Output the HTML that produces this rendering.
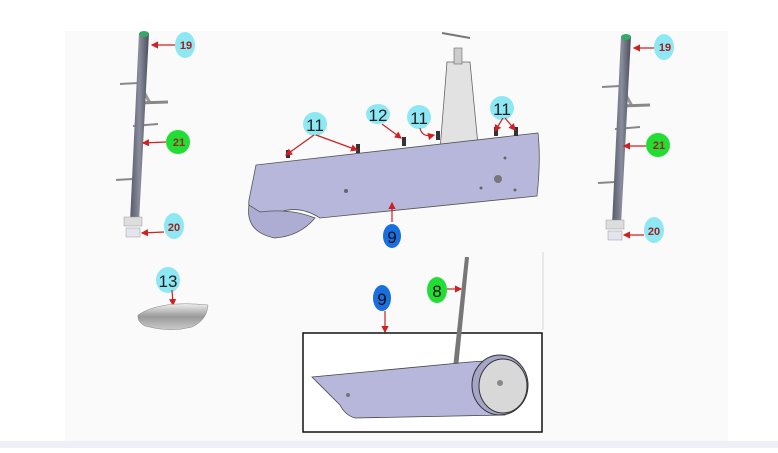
<!DOCTYPE html>
<html><head><meta charset="utf-8"><style>
body{margin:0;width:778px;height:448px;overflow:hidden;background:#fff;font-family:"Liberation Sans",sans-serif}
</style></head><body>
<svg width="778" height="448" viewBox="0 0 778 448" xmlns="http://www.w3.org/2000/svg">
<defs>
<marker id="a" markerWidth="6" markerHeight="6" refX="5" refY="3" orient="auto"><path d="M0,0L6,3L0,6z" fill="#d02020"/></marker>
<linearGradient id="pole" x1="0" x2="1"><stop offset="0" stop-color="#55586a"/><stop offset=".5" stop-color="#8a8d9c"/><stop offset="1" stop-color="#4a4c5c"/></linearGradient>
<linearGradient id="shell" x1="0" y1="0" x2="0" y2="1"><stop offset="0" stop-color="#eee"/><stop offset=".5" stop-color="#999"/><stop offset="1" stop-color="#ccc"/></linearGradient>
</defs>
<rect x="0" y="0" width="778" height="448" fill="#fff"/>
<rect x="65" y="31" width="663" height="410" fill="#fafafa"/>
<rect x="0" y="441" width="778" height="7" fill="#eef0f8"/>

<!-- left pole -->
<g id="poleL">
<line x1="120" y1="84" x2="138" y2="83" stroke="#888" stroke-width="2"/>
<line x1="140" y1="85" x2="150" y2="103" stroke="#999" stroke-width="3"/>
<line x1="138" y1="103" x2="168" y2="102" stroke="#888" stroke-width="3"/>
<line x1="133" y1="126" x2="158" y2="124" stroke="#888" stroke-width="2"/>
<line x1="116" y1="180" x2="133" y2="179" stroke="#888" stroke-width="2"/>
<polygon points="139,33 149,33 139,222 130,222" fill="url(#pole)"/>
<ellipse cx="144" cy="34" rx="5" ry="3" fill="#3a6"/>
<rect x="124" y="217" width="18" height="9" fill="#ddd" stroke="#999" stroke-width=".5"/>
<rect x="126" y="228" width="14" height="9" fill="#e4e4ee" stroke="#999" stroke-width=".5"/>
</g>
<g transform="translate(482,3)">
<line x1="120" y1="84" x2="138" y2="83" stroke="#888" stroke-width="2"/>
<line x1="140" y1="85" x2="150" y2="103" stroke="#999" stroke-width="3"/>
<line x1="138" y1="103" x2="168" y2="102" stroke="#888" stroke-width="3"/>
<line x1="133" y1="126" x2="158" y2="124" stroke="#888" stroke-width="2"/>
<line x1="116" y1="180" x2="133" y2="179" stroke="#888" stroke-width="2"/>
<polygon points="139,33 149,33 139,222 130,222" fill="url(#pole)"/>
<ellipse cx="144" cy="34" rx="5" ry="3" fill="#3a6"/>
<rect x="124" y="217" width="18" height="9" fill="#ddd" stroke="#999" stroke-width=".5"/>
<rect x="126" y="228" width="14" height="9" fill="#e4e4ee" stroke="#999" stroke-width=".5"/>
</g>

<!-- pole labels -->
<g font-size="11" fill="#a02020" text-anchor="middle" font-weight="bold">
<ellipse cx="185" cy="45" rx="10" ry="13" fill="#8ee8f4"/><text x="186" y="49">19</text>
<ellipse cx="178" cy="142" rx="12" ry="12" fill="#22dd33"/><text x="179" y="146">21</text>
<ellipse cx="174" cy="226" rx="10" ry="13" fill="#8ee8f4"/><text x="174" y="231">20</text>
<ellipse cx="664" cy="47" rx="10" ry="13" fill="#8ee8f4"/><text x="665" y="51">19</text>
<ellipse cx="658" cy="145" rx="12" ry="12" fill="#22dd33"/><text x="659" y="149">21</text>
<ellipse cx="654" cy="230" rx="10" ry="13" fill="#8ee8f4"/><text x="654" y="235">20</text>
</g>
<g stroke="#d02020" stroke-width="1.2" marker-end="url(#a)" fill="none">
<line x1="175" y1="45" x2="152" y2="45"/>
<line x1="166" y1="142" x2="143" y2="143"/>
<line x1="164" y1="232" x2="142" y2="233"/>
<line x1="654" y1="48" x2="634" y2="48"/>
<line x1="646" y1="146" x2="624" y2="146"/>
<line x1="644" y1="235" x2="624" y2="235"/>
</g>

<!-- 13 shell -->
<ellipse cx="168" cy="280" rx="12" ry="13" fill="#8ee8f4"/>
<text x="168" y="287" font-size="17" text-anchor="middle" fill="#222">13</text>
<line x1="172" y1="290" x2="173" y2="305" stroke="#d02020" stroke-width="1.2" marker-end="url(#a)"/>
<path d="M138,315 Q160,300 208,305 Q207,320 192,327 Q170,333 145,326 Q137,322 138,315z" fill="url(#shell)" stroke="#888" stroke-width=".5"/>

<!-- main body -->
<polygon points="447,62 470,62 478,145 440,150" fill="#e2e2e2" stroke="#666" stroke-width=".8"/>
<rect x="454" y="48" width="8" height="16" fill="#ccc" stroke="#666" stroke-width=".6"/>
<line x1="442" y1="33" x2="470" y2="38" stroke="#777" stroke-width="2"/>
<path d="M256,165 L538,133 Q541,160 537,196 L320,218 Q300,205 280,212 L260,220 Q247,214 249,200 Z" fill="#b7b7dc" stroke="#555" stroke-width=".8"/>
<path d="M249,205 Q245,232 275,238 Q300,236 315,218 Q290,208 260,212 Z" fill="#adadd4" stroke="#555" stroke-width=".8"/>
<circle cx="498" cy="179" r="4" fill="#777"/>
<g fill="#666"><circle cx="346" cy="191" r="2"/><circle cx="505" cy="158" r="1.5"/><circle cx="481" cy="188" r="1.5"/><circle cx="515" cy="190" r="1.5"/></g>
<g fill="#333"><rect x="286" y="150" width="4" height="8"/><rect x="356" y="144" width="4" height="9"/><rect x="402" y="137" width="4" height="9"/><rect x="436" y="131" width="4" height="9"/><rect x="494" y="127" width="4" height="9"/><rect x="514" y="127" width="4" height="9"/></g>
<g font-size="17" text-anchor="middle" fill="#222">
<ellipse cx="315" cy="124" rx="12" ry="12" fill="#8ee8f4"/><text x="315" y="131">11</text>
<ellipse cx="378" cy="114" rx="12" ry="10" fill="#8ee8f4"/><text x="378" y="121">12</text>
<ellipse cx="419" cy="117" rx="12" ry="12" fill="#8ee8f4"/><text x="419" y="124">11</text>
<ellipse cx="502" cy="108" rx="12" ry="12" fill="#8ee8f4"/><text x="502" y="115">11</text>
<ellipse cx="392" cy="236" rx="9" ry="12" fill="#1a6fe0"/><text x="392" y="243" fill="#111">9</text>
<ellipse cx="382" cy="298" rx="9" ry="13" fill="#1a6fe0"/><text x="382" y="305" fill="#111">9</text>
<ellipse cx="437" cy="290" rx="10" ry="13" fill="#22dd33"/><text x="437" y="297" fill="#111">8</text>
</g>
<g stroke="#d02020" stroke-width="1.2" marker-end="url(#a)" fill="none">
<line x1="314" y1="135" x2="286" y2="155"/>
<line x1="316" y1="135" x2="357" y2="150"/>
<line x1="382" y1="124" x2="401" y2="138"/>
<path d="M420,128 Q422,138 434,135"/>
<line x1="503" y1="118" x2="495" y2="131"/>
<line x1="505" y1="118" x2="515" y2="130"/>
<line x1="392" y1="222" x2="392" y2="203"/>
<line x1="385" y1="311" x2="385" y2="332"/>
<line x1="447" y1="289" x2="461" y2="289"/>
</g>

<line x1="543" y1="252" x2="543" y2="330" stroke="#e8e8e8" stroke-width="2"/>
<!-- detail box -->
<rect x="303" y="333" width="239" height="99" fill="#fff" stroke="#111" stroke-width="1.5"/>
<polygon points="465,257 469,257 458,368 453,368" fill="#777"/>
<path d="M312,377 L470,362 L500,360 L505,415 L355,418 Q345,415 340,405 Z" fill="#b7b7dc" stroke="#444" stroke-width=".8"/>
<ellipse cx="500" cy="385" rx="28" ry="30" fill="#a5a5c8" stroke="#333" stroke-width="1"/>
<ellipse cx="503" cy="386" rx="24" ry="27" fill="#d8d8d8" stroke="#333" stroke-width="1"/>
<circle cx="500" cy="383" r="3" fill="#888"/>
<circle cx="348" cy="395" r="2" fill="#777"/>
</svg>
</body></html>
